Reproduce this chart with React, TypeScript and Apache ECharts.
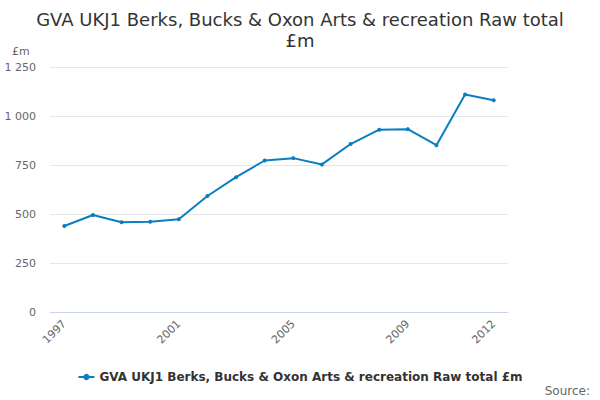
import React, { useEffect, useRef } from "react";
import * as echarts from "echarts";

const categories = ["1997","1998","1999","2000","2001","2002","2003","2004","2005","2006","2007","2008","2009","2010","2011","2012"];
const values = [439, 495, 458, 460, 473, 592, 688, 773, 785, 753, 857, 930, 933, 851, 1110, 1080];
const seriesName = "GVA UKJ1 Berks, Bucks & Oxon Arts & recreation Raw total £m";
const titleText = "GVA UKJ1 Berks, Bucks & Oxon Arts & recreation Raw total\n£m";

const FONT = "DejaVu Sans, sans-serif";

export default function App() {
  const ref = useRef<HTMLDivElement>(null);
  useEffect(() => {
    document.body.style.margin = "0";
    if (!ref.current) return;
    const chart = echarts.init(ref.current, undefined, { renderer: "svg" });
    chart.setOption({
      animation: false,
      backgroundColor: "#ffffff",
      title: {
        text: titleText,
        left: "center",
        top: 4,
        textStyle: { fontFamily: FONT, fontSize: 18, fontWeight: "normal", color: "#333333", lineHeight: 21 },
      },
      grid: { left: 50, right: 92, top: 67, bottom: 88, containLabel: false },
      xAxis: {
        type: "category",
        data: categories,
        boundaryGap: true,
        axisLine: { lineStyle: { color: "#ccd6eb" } },
        axisTick: { alignWithLabel: true, interval: 0, length: 9, lineStyle: { color: "#ccd6eb" } },
        axisLabel: {
          rotate: 45,
          margin: 10,
          color: "#666666",
          fontFamily: FONT,
          fontSize: 11,
          interval: (i: number) => i % 4 === 0 || i === categories.length - 1,
        },
      },
      yAxis: {
        type: "value",
        min: 0,
        max: 1250,
        interval: 250,
        axisLine: { show: false },
        axisTick: { show: false },
        splitLine: { lineStyle: { color: "#e6e6e6" } },
        axisLabel: {
          color: "#666666",
          fontFamily: FONT,
          fontSize: 11,
          margin: 14,
          formatter: (v: number) => String(v).replace(/\B(?=(\d{3})+(?!\d))/g, " "),
        },
      },
      legend: {
        top: 366,
        left: "center",
        itemWidth: 16,
        itemHeight: 8,
        itemGap: 10,
        textStyle: { fontFamily: FONT, fontSize: 12, fontWeight: "bold", color: "#333333" },
        data: [seriesName],
      },
      graphic: [
        { type: "text", left: 12, top: 46, style: { text: "£m", fontFamily: FONT, fontSize: 11, fill: "#666666" } },
        { type: "text", right: 10, top: 385, style: { text: "Source:", fontFamily: FONT, fontSize: 12, fill: "#666666" } },
      ],
      series: [
        {
          name: seriesName,
          type: "line",
          data: values,
          symbol: "circle",
          symbolSize: 4,
          lineStyle: { color: "#0b7dc1", width: 2 },
          itemStyle: { color: "#0b7dc1" },
        },
      ],
    });
    return () => chart.dispose();
  }, []);
  return <div ref={ref} style={{ width: 600, height: 400 }} />;
}
